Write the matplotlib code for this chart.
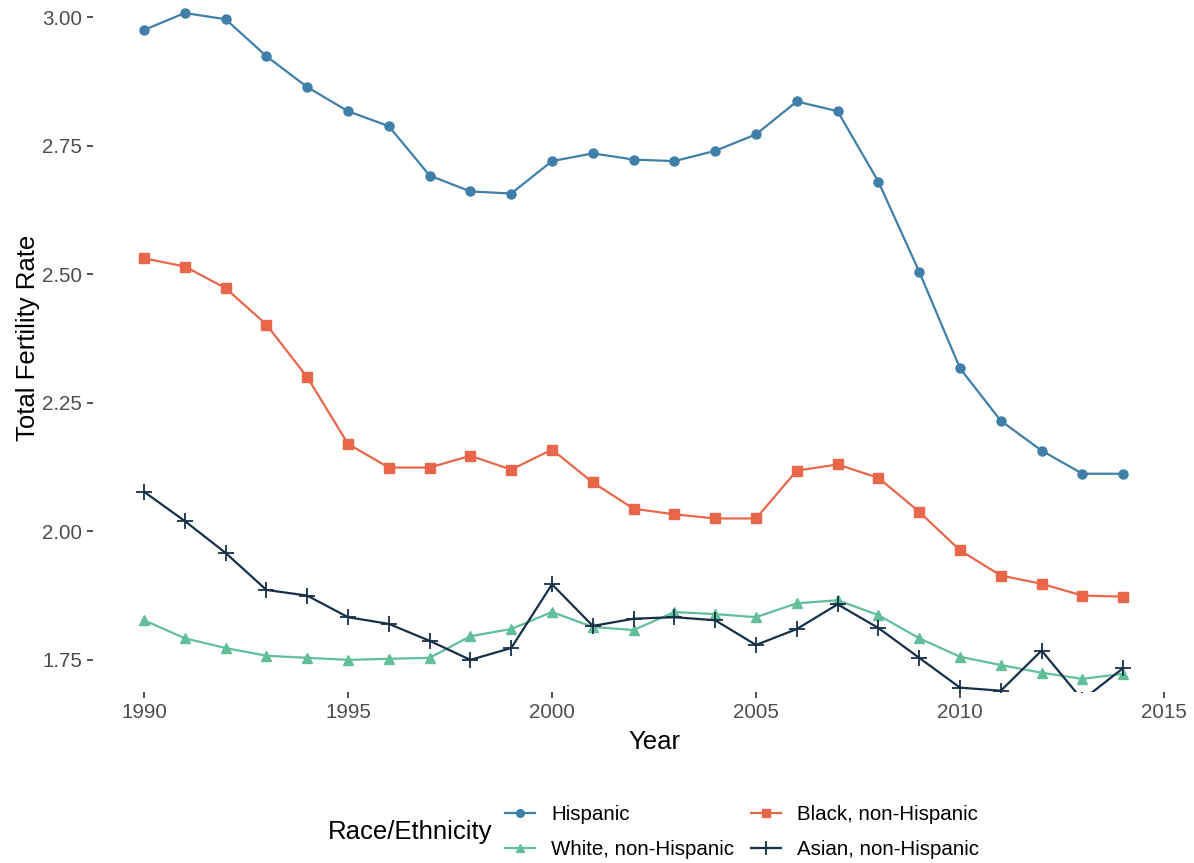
import numpy as np
import matplotlib
matplotlib.use("Agg")
import matplotlib.pyplot as plt

plt.rcParams['font.family'] = ['Liberation Sans', 'DejaVu Sans']

## total fertility rate by race/ethnicity, 1990-2014
years = list(range(1990, 2015))
hispanic = [2.975, 3.008, 2.996, 2.924, 2.864, 2.817, 2.788, 2.692, 2.661, 2.657,
            2.720, 2.735, 2.723, 2.720, 2.740, 2.772, 2.836, 2.817, 2.680, 2.505,
            2.317, 2.215, 2.157, 2.112, 2.112]
black = [2.531, 2.515, 2.473, 2.402, 2.300, 2.170, 2.124, 2.124, 2.147, 2.120,
         2.159, 2.095, 2.044, 2.033, 2.025, 2.025, 2.118, 2.130, 2.104, 2.038,
         1.963, 1.914, 1.898, 1.875, 1.873]
white = [1.827, 1.792, 1.773, 1.758, 1.754, 1.750, 1.752, 1.754, 1.796, 1.810,
         1.843, 1.814, 1.808, 1.843, 1.839, 1.833, 1.860, 1.866, 1.837, 1.792,
         1.756, 1.740, 1.725, 1.713, 1.723]
asian = [2.077, 2.020, 1.958, 1.886, 1.875, 1.833, 1.820, 1.787, 1.750, 1.773,
         1.897, 1.816, 1.830, 1.833, 1.827, 1.779, 1.810, 1.858, 1.812, 1.754,
         1.696, 1.690, 1.768, 1.672, 1.734]

x_ticks = [1990, 1995, 2000, 2005, 2010, 2015]
y_ticks = [1.75, 2.00, 2.25, 2.50, 2.75, 3.00]

W, H = 1194, 863
fig = plt.figure(figsize=(W / 100, H / 100), dpi=100)
## panel runs a bit past the right/top border
ax = fig.add_axes([93 / W, (H - 692) / H, (1215 - 93) / W, (692 + 15) / H])

ax.plot(years, hispanic, color='#3F7FA8', lw=1.6, marker='o', ms=6.5, label='Hispanic')
ax.plot(years, white, color='#62BE9B', lw=1.6, marker='^', ms=7.5, label='White, non-Hispanic')
ax.plot(years, black, color='#E8674A', lw=1.6, marker='s', ms=6.5, label='Black, non-Hispanic')
ax.plot(years, asian, color='#173047', lw=1.6, marker='+', ms=12, mew=1.3, label='Asian, non-Hispanic')

ax.set_xlim(1988.75, 2016.25)
ax.set_ylim(1.6875, 3.0625)
ax.set_xticks(x_ticks)
ax.set_yticks(y_ticks)
ax.set_yticklabels(['%.2f' % v for v in y_ticks])
for s in ax.spines.values():
    s.set_visible(False)
ax.tick_params(axis='both', length=4, width=1.2, color='#333333',
               labelsize=14.8, labelcolor='#4D4D4D', pad=4)

fig.text(654 / W, 1 - 742 / H, 'Year', ha='center', va='center', fontsize=18.5)
fig.text(28 / W, 1 - 338 / H, 'Total Fertility Rate', ha='center', va='center',
         rotation=90, fontsize=18.5)

## legend at the bottom, title on the left of two columns
fig.text(328 / W, 1 - 832 / H, 'Race/Ethnicity', ha='left', va='center', fontsize=18.5)
fig.legend(loc='center left', bbox_to_anchor=(505 / W, 1 - 832 / H), ncol=2,
           frameon=False, fontsize=14.8, handlelength=1.45, handletextpad=0.8,
           columnspacing=0.8, labelspacing=0.75, borderpad=0, borderaxespad=0,
           markerscale=0.85)

fig.savefig('out.png', dpi=100)
